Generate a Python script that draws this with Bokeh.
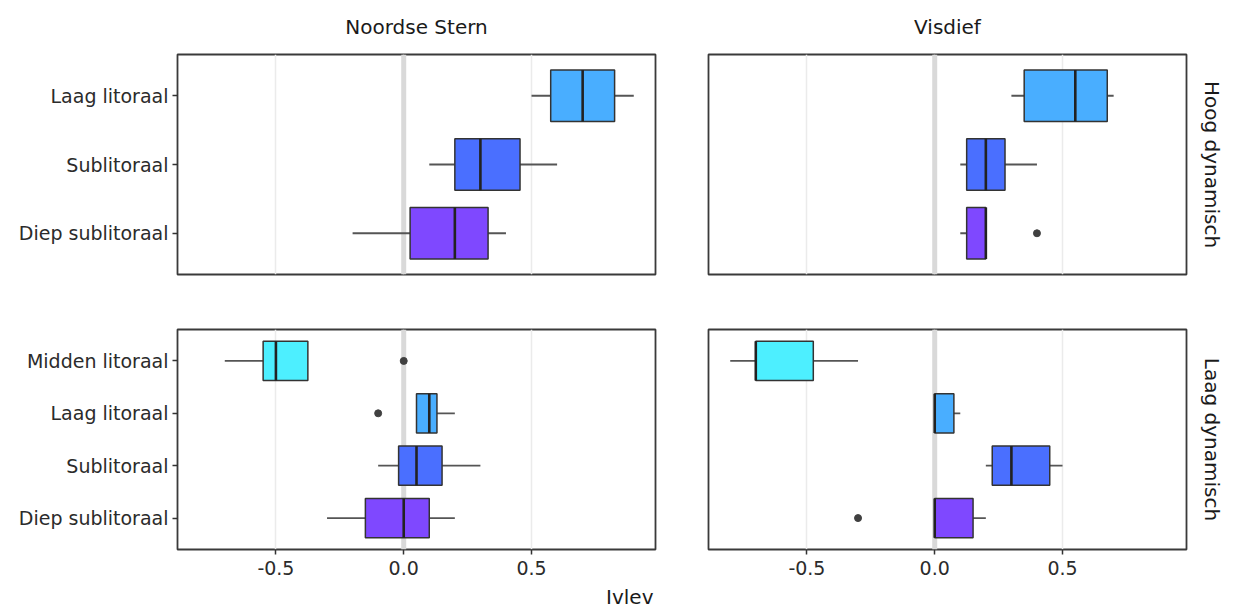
from bokeh.plotting import figure
from bokeh.models import Range1d, FixedTicker, Span, Title, LinearAxis, Grid, ColumnDataSource
from bokeh.layouts import column, row
from bokeh.embed import file_html
from bokeh.resources import INLINE

# ---------------- data ----------------
species = ["Noordse Stern", "Visdief"]
dynamics = ["Hoog dynamisch", "Laag dynamisch"]

# categories listed bottom -> top
cats_hoog = ["Diep sublitoraal", "Sublitoraal", "Laag litoraal"]
cats_laag = ["Diep sublitoraal", "Sublitoraal", "Laag litoraal", "Midden litoraal"]

cat_colors = {
    "Midden litoraal": "#4DEFFF",
    "Laag litoraal": "#49AEFF",
    "Sublitoraal": "#4A6FFF",
    "Diep sublitoraal": "#7F48FF",
}

# Noordse Stern - Hoog dynamisch
ns_hoog_lo = [-0.2, 0.1, 0.5]
ns_hoog_q1 = [0.025, 0.2, 0.575]
ns_hoog_med = [0.2, 0.3, 0.7]
ns_hoog_q3 = [0.33, 0.455, 0.825]
ns_hoog_hi = [0.4, 0.6, 0.9]
ns_hoog_out_cat = []
ns_hoog_out_x = []

# Visdief - Hoog dynamisch
vd_hoog_lo = [0.1, 0.1, 0.3]
vd_hoog_q1 = [0.125, 0.125, 0.35]
vd_hoog_med = [0.2, 0.2, 0.55]
vd_hoog_q3 = [0.2, 0.275, 0.675]
vd_hoog_hi = [0.2, 0.4, 0.7]
vd_hoog_out_cat = ["Diep sublitoraal"]
vd_hoog_out_x = [0.4]

# Noordse Stern - Laag dynamisch
ns_laag_lo = [-0.3, -0.1, 0.05, -0.7]
ns_laag_q1 = [-0.15, -0.02, 0.05, -0.55]
ns_laag_med = [0.0, 0.05, 0.1, -0.5]
ns_laag_q3 = [0.1, 0.15, 0.13, -0.375]
ns_laag_hi = [0.2, 0.3, 0.2, -0.375]
ns_laag_out_cat = ["Laag litoraal", "Midden litoraal"]
ns_laag_out_x = [-0.1, 0.0]

# Visdief - Laag dynamisch
vd_laag_lo = [0.0, 0.2, 0.0, -0.8]
vd_laag_q1 = [0.0, 0.225, 0.0, -0.7]
vd_laag_med = [0.0, 0.3, 0.0, -0.7]
vd_laag_q3 = [0.15, 0.45, 0.075, -0.475]
vd_laag_hi = [0.2, 0.5, 0.1, -0.3]
vd_laag_out_cat = ["Diep sublitoraal"]
vd_laag_out_x = [-0.3]

x_ticks = [-0.5, 0.0, 0.5]
x_tick_labels = ["-0.5", "0.0", "0.5"]
zero_line = 0.0
x_title = "Ivlev"

# ---------------- styling ----------------
FONT = "DejaVu Sans"
BOX_H = 0.75
x_range = Range1d(-0.885, 0.985)
y_range_hoog = Range1d(0.4, len(cats_hoog) + 0.6)
y_range_laag = Range1d(0.4, len(cats_laag) + 0.6)


def panel(cats, lo, q1, med, q3, hi, out_cat, out_x, yr, width, height,
          bl, br, bt, bb, show_y, show_x, top_title=None, right_title=None, bottom_title=None):
    p = figure(width=width, height=height, x_range=x_range, y_range=yr,
               x_axis_location=None, y_axis_location=None,
               output_backend="svg", toolbar_location=None,
               min_border_left=bl, min_border_right=br,
               min_border_top=bt, min_border_bottom=bb)
    for g0 in p.grid:
        g0.visible = False
    p.outline_line_color = "#3a3a3a"
    p.outline_line_width = 1.8
    p.background_fill_color = "white"
    p.border_fill_color = "white"

    pos = list(range(1, len(cats) + 1))
    ypos = {c: i for c, i in zip(cats, pos)}

    g = Grid(dimension=0, ticker=FixedTicker(ticks=x_ticks),
             grid_line_color="#ebebeb", grid_line_width=1.5)
    p.add_layout(g)
    p.add_layout(Span(location=zero_line, dimension="height", line_color="#d9d9d9",
                      line_width=5, level="underlay"))

    src = ColumnDataSource(dict(
        y=pos, lo=lo, q1=q1, med=med, q3=q3, hi=hi,
        y0=[v - BOX_H / 2 for v in pos], y1=[v + BOX_H / 2 for v in pos],
        color=[cat_colors[c] for c in cats]))
    p.segment(x0="lo", x1="q1", y0="y", y1="y", source=src, line_color="#555555", line_width=1.8)
    p.segment(x0="q3", x1="hi", y0="y", y1="y", source=src, line_color="#555555", line_width=1.8)
    p.hbar(y="y", left="q1", right="q3", height=BOX_H, source=src,
           fill_color="color", line_color="#333333", line_width=1.5)
    p.segment(x0="med", x1="med", y0="y0", y1="y1", source=src, line_color="#222222", line_width=2.6)
    if out_x:
        p.scatter(x=out_x, y=[ypos[c] for c in out_cat], size=7, color="#404040")

    if show_y:
        ax = LinearAxis(ticker=FixedTicker(ticks=pos),
                        major_label_overrides={i: c for i, c in zip(pos, cats)})
        ax.axis_line_color = None
        ax.major_tick_line_color = "#333333"
        ax.major_tick_line_width = 1.5
        ax.major_tick_out = 5
        ax.major_tick_in = 0
        ax.minor_tick_line_color = None
        ax.major_label_text_font = FONT
        ax.major_label_text_font_size = "19px"
        ax.major_label_text_color = "#2b2b2b"
        ax.major_label_standoff = 4
        p.add_layout(ax, "left")
    if show_x:
        ax = LinearAxis(ticker=FixedTicker(ticks=x_ticks),
                        major_label_overrides={t: l for t, l in zip(x_ticks, x_tick_labels)})
        ax.axis_line_color = None
        ax.major_tick_line_color = "#333333"
        ax.major_tick_line_width = 1.5
        ax.major_tick_out = 5
        ax.major_tick_in = 0
        ax.minor_tick_line_color = None
        ax.major_label_text_font = FONT
        ax.major_label_text_font_size = "19px"
        ax.major_label_text_color = "#2b2b2b"
        ax.major_label_standoff = 6
        p.add_layout(ax, "below")
    if bottom_title:
        p.add_layout(Title(text=bottom_title, align="right", text_font=FONT,
                           text_font_size="20px", text_font_style="normal",
                           text_color="#1a1a1a", standoff=11, offset=2), "below")
    if top_title:
        p.add_layout(Title(text=top_title, align="center", text_font=FONT,
                           text_font_size="20px", text_font_style="normal",
                           text_color="#1a1a1a", standoff=28, vertical_align="top"), "above")
    if right_title:
        p.add_layout(Title(text=right_title, align="center", text_font=FONT,
                           text_font_size="20px", text_font_style="normal",
                           text_color="#1a1a1a", standoff=22, vertical_align="top"), "right")
    return p


tl = panel(cats_hoog, ns_hoog_lo, ns_hoog_q1, ns_hoog_med, ns_hoog_q3, ns_hoog_hi,
           ns_hoog_out_cat, ns_hoog_out_x, y_range_hoog,
           681, 301, 177, 26, 54, 27, True, False, top_title=species[0])
tr = panel(cats_hoog, vd_hoog_lo, vd_hoog_q1, vd_hoog_med, vd_hoog_q3, vd_hoog_hi,
           vd_hoog_out_cat, vd_hoog_out_x, y_range_hoog,
           553, 301, 27, 47, 54, 27, False, False, top_title=species[1], right_title=dynamics[0])
bl = panel(cats_laag, ns_laag_lo, ns_laag_q1, ns_laag_med, ns_laag_q3, ns_laag_hi,
           ns_laag_out_cat, ns_laag_out_x, y_range_laag,
           681, 313, 177, 26, 28, 65, True, True, bottom_title=x_title)
br = panel(cats_laag, vd_laag_lo, vd_laag_q1, vd_laag_med, vd_laag_q3, vd_laag_hi,
           vd_laag_out_cat, vd_laag_out_x, y_range_laag,
           553, 313, 27, 47, 28, 65, False, True, right_title=dynamics[1])

layout = column(row(tl, tr), row(bl, br))
open("out.html", "w").write(file_html(layout, INLINE))
